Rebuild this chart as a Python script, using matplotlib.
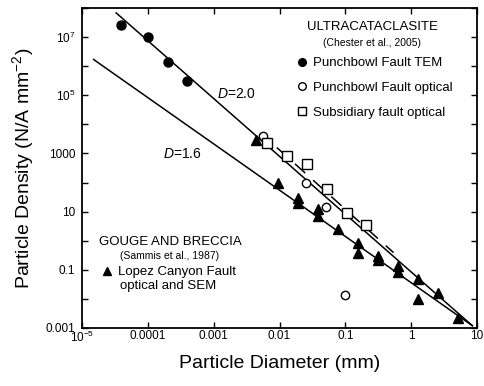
import matplotlib
matplotlib.use('Agg')
import matplotlib.pyplot as plt
from matplotlib.lines import Line2D
from matplotlib.ticker import FixedLocator, FixedFormatter, NullLocator

plt.rcParams['font.family'] = ['Liberation Sans', 'DejaVu Sans']
plt.rcParams['mathtext.fontset'] = 'custom'
plt.rcParams['mathtext.rm'] = 'Liberation Sans'
plt.rcParams['mathtext.it'] = 'Liberation Sans:italic'

# ---- data ----
tem_d = [3.9e-5, 1.0e-4, 2.0e-4, 3.9e-4]
tem_n = [2.6e7, 1.0e7, 1.4e6, 3.0e5]

opt_d = [0.0056, 0.013, 0.025, 0.051, 0.10]
opt_n = [3900, 800, 100, 14, 0.014]

sub_d = [0.0064, 0.013, 0.026, 0.052, 0.105, 0.205]
sub_n = [2200, 800, 420, 58, 9.3, 3.6]

tri_d = [0.0044, 0.0095, 0.019, 0.019, 0.039, 0.039, 0.078, 0.156, 0.156,
         0.31, 0.31, 0.63, 0.63, 1.28, 1.28, 2.6, 5.2]
tri_n = [3000, 94, 30, 20, 12.6, 7.3, 2.6, 0.85, 0.39,
         0.30, 0.22, 0.138, 0.085, 0.049, 0.010, 0.016, 0.0022]

fit20_d = [3.3e-5, 8.5]
fit20_n = [6.8e7, 1.2e-3]
fit16_d = [1.5e-5, 8.5]
fit16_n = [1.7e6, 1.2e-3]
dash_d = [0.0091, 0.54]
dash_n = [1600, 0.39]

x_ticks = [1e-5, 1e-4, 1e-3, 1e-2, 1e-1, 1, 10]
x_labels = ['10$^{-5}$', '0.0001', '0.001', '0.01', '0.1', '1', '10']
y_ticks = [1e-3, 1e-2, 1e-1, 1, 10, 100, 1e3, 1e4, 1e5, 1e6, 1e7, 1e8]
y_labels = ['0.001', '', '0.1', '', '10', '', '1000', '', '10$^{5}$', '', '10$^{7}$', '']

W, H = 484, 386
fig = plt.figure(figsize=(W / 100, H / 100), dpi=100)
L, R, T, B = 82, 477, 8, 328
ax = fig.add_axes([L / W, 1 - B / H, (R - L) / W, (B - T) / H])
ax.set_xscale('log')
ax.set_yscale('log')
ax.set_xlim(1e-5, 10)
ax.set_ylim(1e-3, 1e8)

lw = 1.1
ax.plot(fit20_d, fit20_n, color='black', lw=lw)
ax.plot(fit16_d, fit16_n, color='black', lw=lw)
ax.plot(dash_d, dash_n, color='black', lw=lw, linestyle=(0, (9, 7)))

ax.plot(tem_d, tem_n, 'o', color='black', ms=6.5, ls='none')
ax.plot(tri_d, tri_n, '^', color='black', ms=6.5, ls='none')
ax.plot(opt_d, opt_n, 'o', mfc='white', mec='black', mew=1.0, ms=6, ls='none')
ax.plot(sub_d, sub_n, 's', mfc='white', mec='black', mew=1.0, ms=6.5, ls='none')

ax.xaxis.set_major_locator(FixedLocator(x_ticks))
ax.xaxis.set_major_formatter(FixedFormatter(x_labels))
ax.xaxis.set_minor_locator(NullLocator())
ax.yaxis.set_major_locator(FixedLocator(y_ticks))
ax.yaxis.set_major_formatter(FixedFormatter(y_labels))
ax.yaxis.set_minor_locator(NullLocator())
ax.tick_params(which='major', direction='in', length=4, width=1.0,
               top=True, right=True, labelsize=8.5, colors='black')
ax.tick_params(axis='x', pad=1.5)
ax.tick_params(axis='y', pad=5)
for s in ax.spines.values():
    s.set_linewidth(1.3)

ax.set_xlabel('Particle Diameter (mm)', fontsize=14, labelpad=7)
ax.set_ylabel('Particle Density (N/A mm$^{-2}$)', fontsize=14, labelpad=7)

def fx(px):
    return px / W

def fy(py):
    return 1 - py / H

fig.text(fx(236), fy(94), '$D$=2.0', fontsize=10, ha='center', va='center')
fig.text(fx(182), fy(154), '$D$=1.6', fontsize=10, ha='center', va='center')

# legend headers
fig.text(fx(372), fy(27), 'ULTRACATACLASITE', fontsize=9.5, ha='center', va='center')
fig.text(fx(372), fy(43), '(Chester et al., 2005)', fontsize=7.5, ha='center', va='center')
fig.text(fx(170), fy(242), 'GOUGE AND BRECCIA', fontsize=9.5, ha='center', va='center')
fig.text(fx(170), fy(256), '(Sammis et al., 1987)', fontsize=7.5, ha='center', va='center')

h1 = [Line2D([], [], marker='o', color='black', ls='none', ms=5.5),
      Line2D([], [], marker='o', mfc='white', mec='black', ls='none', ms=5.5),
      Line2D([], [], marker='s', mfc='white', mec='black', ls='none', ms=5.5)]
leg1 = fig.legend(handles=h1,
                  labels=['Punchbowl Fault TEM', 'Punchbowl Fault optical',
                          'Subsidiary fault optical'],
                  loc='upper left', bbox_to_anchor=(fx(295), fy(57)),
                  frameon=False, fontsize=9.5, handlelength=1.0,
                  handletextpad=0.35, borderpad=0, borderaxespad=0,
                  labelspacing=0.95)
h2 = [Line2D([], [], marker='^', color='black', ls='none', ms=5.5)]
leg2 = fig.legend(handles=h2, labels=['Lopez Canyon Fault'],
                  loc='upper left', bbox_to_anchor=(fx(100), fy(266)),
                  frameon=False, fontsize=9.5, handlelength=1.0,
                  handletextpad=0.35, borderpad=0, borderaxespad=0)
fig.text(fx(120), fy(286), 'optical and SEM', fontsize=9.5, ha='left', va='center')

fig.savefig('out.png', dpi=100)
